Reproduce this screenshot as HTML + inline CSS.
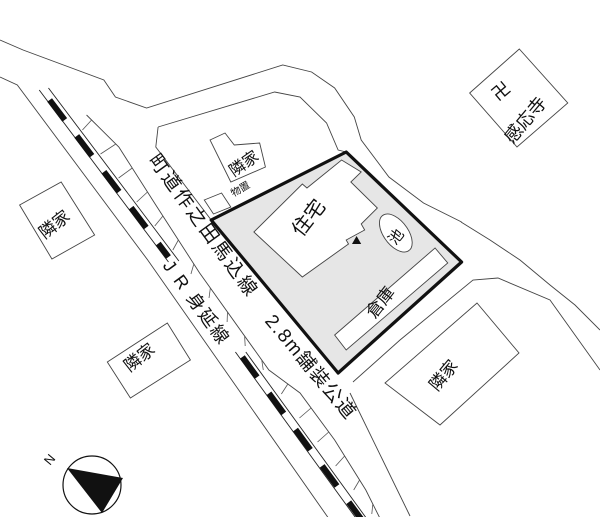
<!DOCTYPE html>
<html><head><meta charset="utf-8"><style>
html,body{margin:0;padding:0;background:#fff;}
svg{display:block;font-family:"Liberation Sans","Noto Sans CJK JP",sans-serif;}
line,polyline,polygon,ellipse{vector-effect:non-scaling-stroke;}
</style></head><body>
<svg id="s" width="600" height="527" viewBox="0 0 600 527" xmlns="http://www.w3.org/2000/svg">
<g fill="none" stroke="#444" stroke-width="0.9">
<polyline points="461,222 490,240 520,260 550,285 575,305 600,330"/>
<polyline points="353,382 400,340 473,280 498,278 550,300 600,370"/>
<polygon points="385,383 477,303 519,353 440,425"/>
<polyline points="350,393 410,516"/>
</g>
<g transform="scale(1.154,1)">
<g fill="none" stroke="#444" stroke-width="0.9">
<polyline points="0,40 20,50 90,80 100,97 127,108 245,65 270,72 290,88 307,117 313,140 337,177 367,203 400,222"/>
<polyline points="0,77 15,85 128,260 290,527"/>
<polyline points="137,127 238,92 260,97 283,123 293,150 300,152"/>
<polyline points="137,127 135,147 183,220"/>
<polyline points="75,115 103,147 135,205 173,273 233,370 260,393 290,440 317,490 333,527"/>
<polygon points="182,140 195,133 203,145 225,143 230,167 200,182"/>
<polygon points="17,205 53,182 82,235 45,259"/>
<polygon points="93,362 145,323 165,360 113,398"/>
<polygon points="407,93 450,49 492,103 448,147"/>
<polygon points="177,200 192,193 200,207 185,214"/>
<polygon points="215,203 228,200 232,213 219,216"/>
</g>
<g stroke="#222" stroke-width="0.9">
<line x1="34" y1="90" x2="146" y2="262"/>
<line x1="42" y1="88" x2="155" y2="261"/>
<line x1="204" y1="352" x2="314" y2="527"/>
<line x1="213" y1="352" x2="323" y2="527"/>
</g>
<g stroke="#111" stroke-width="6" stroke-dasharray="25 20">
<line x1="43" y1="100" x2="146" y2="257"/>
<line x1="210" y1="357" x2="318" y2="527"/>
</g>
<g id="rungs" stroke="#555" stroke-width="0.8"></g>
<polygon points="183,220 300,152 400,262 293,373" fill="#e6e6e6" stroke="#111" stroke-width="3.2" stroke-linejoin="round"/>
<polygon points="220,232 262,184 266,188 296,160 313,172 304,182 327,208 313,224 316,230 300,240 302,244 262,277" fill="#fff" stroke="#444" stroke-width="0.9"/>
<ellipse cx="343" cy="233" rx="11" ry="21" transform="rotate(-30 343 233)" fill="#fff" stroke="#444" stroke-width="0.9"/>
<polygon points="290,335 377,248 388,263 300,350" fill="#fff" stroke="#444" stroke-width="0.9"/>
<polygon points="309,236 305,244 313,244" fill="#111"/>
</g>
<rect x="0" y="517" width="600" height="10" fill="#fff"/>
<circle cx="92" cy="485" r="29" fill="#fff" stroke="#111" stroke-width="1.2"/>
<polygon points="67,468 123,478 102,513" fill="#111"/>
<text x="0" y="0" font-size="13" transform="translate(50,466) rotate(-50)" fill="#111">N</text>
<g fill="#111" font-size="17">
<text transform="translate(314,222) rotate(-52)" text-anchor="middle" font-size="20">住宅</text>
<text transform="translate(400,240) rotate(-52)" text-anchor="middle" font-size="15">池</text>
<text transform="translate(385,306) rotate(-52)" text-anchor="middle" font-size="17">倉庫</text>
<text transform="translate(247,168) rotate(-35)" text-anchor="middle" font-size="16">隣家</text>
<text transform="translate(242,192) rotate(-30)" text-anchor="middle" font-size="10">物置</text>
<text transform="translate(58,229) rotate(-38)" text-anchor="middle" font-size="17">隣家</text>
<text transform="translate(143,362) rotate(-38)" text-anchor="middle" font-size="17">隣家</text>
<text transform="translate(448,379) rotate(-50)" text-anchor="middle" font-size="17">隣家</text>
<text transform="translate(505,96) rotate(-40)" text-anchor="middle" font-size="18">卍</text>
<text transform="translate(530,124) rotate(-50)" text-anchor="middle" font-size="18">感応寺</text>
<text transform="translate(152,157) rotate(54)" font-size="19" dominant-baseline="middle" letter-spacing="2.5">町道作之田馬込線</text>
<text transform="translate(166,263) rotate(54)" font-size="18" dominant-baseline="middle" letter-spacing="2">J R 身延線</text>
<text transform="translate(268,318) rotate(50)" font-size="19" dominant-baseline="middle" letter-spacing="1.5">2.8m舗装公道</text>
</g>
</svg>
<script>
(function(){
 var pts=[[75,115],[103,147],[135,205],[173,273],[233,370],[260,393],[290,440],[317,490],[333,527]];
 function lx(y){for(var i=0;i<pts.length-1;i++){var a=pts[i],b=pts[i+1];if(y>=a[1]&&y<=b[1])return a[0]+(b[0]-a[0])*(y-a[1])/(b[1]-a[1]);}return null;}
 var g=document.getElementById('rungs'),ns='http://www.w3.org/2000/svg';
 for(var y=130;y<525;y+=24){var rx=42+0.653*(y-88)+2;var y2=y-10;var x2=lx(y2);if(x2==null)continue;
  var l=document.createElementNS(ns,'line');l.setAttribute('x1',rx);l.setAttribute('y1',y);l.setAttribute('x2',x2);l.setAttribute('y2',y2);l.setAttribute('vector-effect','non-scaling-stroke');g.appendChild(l);}
})();
</script>
</body></html>
